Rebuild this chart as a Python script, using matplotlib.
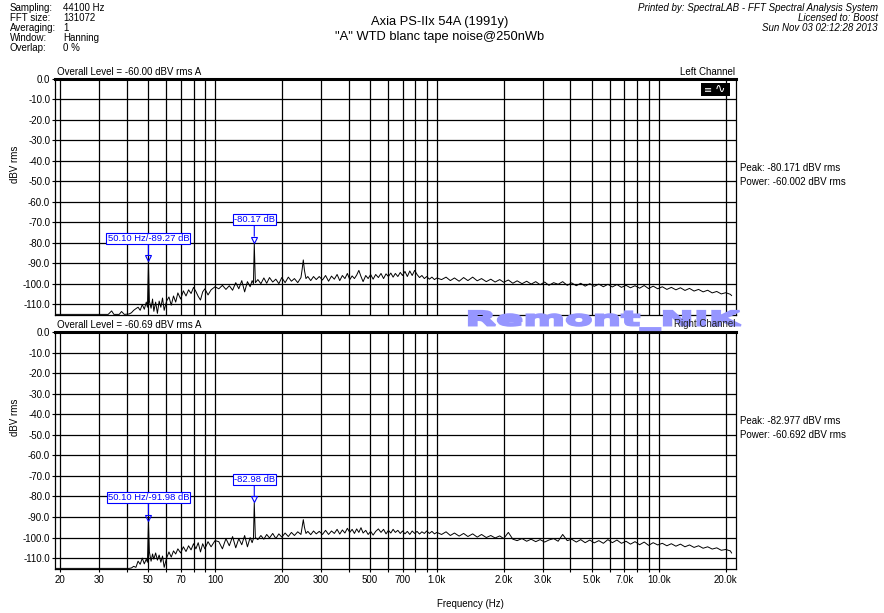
import numpy as np
import matplotlib
matplotlib.use("Agg")
import matplotlib.pyplot as plt
from matplotlib.patches import Rectangle, PathPatch
from matplotlib.textpath import TextPath
from matplotlib.font_manager import FontProperties
from matplotlib.transforms import Affine2D, IdentityTransform, offset_copy
from matplotlib.ticker import NullFormatter

plt.rcParams['font.family'] = ['Liberation Sans', 'DejaVu Sans']

W, H = 884, 613

# spectrum (Hz / dBV rms)
freqs = [19, 30, 33, 34.2, 35, 37, 37.9, 39, 41, 42,
         43, 44, 45, 46, 47, 48, 49, 49.6, 50.1, 50.6,
         51.5, 52.3, 53, 54, 55, 56, 57, 58, 59, 60.5,
         62, 63.5, 65, 66.5, 68, 70, 72, 74, 76, 78,
         80, 82, 84, 86, 88, 90, 93, 96, 100,
         104, 108, 112, 116, 120, 124, 128, 132, 136, 140,
         144, 147, 149, 150.3, 152, 156, 161, 166, 171, 176,
         182, 188, 194, 200, 207, 214, 221, 228, 236, 244,
         247, 250, 253, 257, 262, 270, 278, 286, 295, 305,
         315, 325, 335, 345, 355, 365, 375, 385, 395, 405,
         415, 425, 435, 445, 455, 465, 478, 490, 503, 516,
         530, 545, 560, 575, 590, 605, 620, 635, 650, 667,
         684, 700, 718, 736, 755, 774, 794, 814, 835, 856,
         878, 900, 925, 950, 975, 1000,
         1050, 1100, 1150, 1200, 1260, 1320, 1380, 1450, 1520, 1590,
         1670, 1750, 1830, 1920, 2000, 2100, 2200, 2300, 2420, 2540,
         2660, 2790, 2920, 3060, 3200, 3360, 3520, 3690, 3870, 4050,
         4250, 4450, 4660, 4890, 5120, 5370, 5630, 5900, 6180, 6480,
         6790, 7120, 7460, 7820, 8200, 8600, 9000, 9440, 9900, 10380,
         10880, 11400, 11950, 12530, 13130, 13760, 14430, 15120, 15850, 16620,
         17420, 18260, 19140, 20060, 21030, 21300]

left_db = [-115.0, -115.0, -115.0, -113.3, -115.0, -115.0, -113.6, -115.0, -114.8, -114.2,
           -113.0, -112.2, -111.5, -113.0, -110.2, -112.5, -109.0, -111.5, -89.27, -108.5,
           -112.0, -107.5, -113.5, -109.0, -114.5, -108.5, -111.5, -107.0, -113.0, -108.5,
           -106.5, -110.5, -106.0, -109.0, -104.5, -107.5, -103.5, -106.0, -103.0, -104.8,
           -101.8, -103.8, -106.2, -108.0, -104.0, -102.5, -105.5, -103.0, -101.5,
           -102.5, -100.8, -102.8, -101.0, -103.2, -99.5, -102.5, -98.5, -104.0, -99.0,
           -101.5, -98.5, -100.0, -80.17, -99.5, -98.0, -100.0, -97.2, -99.8, -97.0,
           -99.2, -97.8, -100.0, -97.0, -99.5, -96.8, -98.8, -97.5, -99.5, -97.0,
           -93.0, -88.4, -93.5, -97.5, -96.5, -98.5, -96.5, -98.0, -96.5, -98.2,
           -96.0, -98.8, -96.3, -97.8, -95.5, -98.5, -96.0, -97.5, -95.0, -98.0,
           -96.2, -97.5, -95.8, -93.5, -96.5, -99.0, -96.0, -97.5, -95.5, -97.8,
           -95.5, -97.0, -95.0, -97.5, -95.2, -96.5, -94.8, -96.8, -95.0, -96.5,
           -94.5, -96.0, -94.0, -96.5, -93.8, -96.0, -93.5, -95.5, -97.0, -96.0,
           -97.5, -96.5, -97.8, -96.8, -98.0, -97.2,
           -98.0, -96.8, -98.5, -97.2, -98.8, -97.0, -98.5, -96.8, -98.6, -97.5,
           -99.0, -97.8, -99.2, -98.0, -99.3, -98.2, -99.8, -98.6, -100.0, -98.8,
           -100.2, -99.0, -100.5, -99.2, -100.8, -99.5, -100.3, -99.0, -100.8, -99.6,
           -101.0, -99.8, -101.2, -100.0, -101.3, -100.2, -101.5, -100.3, -101.6, -100.4,
           -101.8, -100.8, -102.0, -101.0, -102.2, -100.9, -102.4, -101.2, -102.5, -101.5,
           -102.8, -101.8, -103.0, -102.0, -103.3, -102.3, -103.6, -102.8, -104.0, -103.2,
           -104.5, -103.8, -105.0, -104.4, -105.2, -105.8]

right_db = [-115.0, -115.0, -115.0, -115.0, -115.0, -115.0, -115.0, -115.0, -115.0, -114.8,
            -114.0, -114.5, -111.5, -113.0, -110.0, -112.8, -110.5, -112.0, -91.98, -107.0,
            -111.5, -108.0, -110.5, -107.5, -111.0, -108.5, -112.0, -109.0, -114.5, -110.0,
            -107.0, -109.5, -106.5, -108.0, -105.5, -107.5, -104.5, -106.8, -104.0, -106.0,
            -103.0, -105.5, -102.5, -107.0, -103.0, -105.5, -102.0, -104.5, -101.5,
            -102.0, -105.5, -100.5, -104.0, -99.5, -105.0, -100.5, -103.5, -99.0, -104.5,
            -100.0, -102.5, -100.5, -82.98, -100.0, -101.0, -99.0, -100.8, -98.5, -100.2,
            -98.0, -100.5, -98.2, -99.8, -97.8, -99.5, -97.5, -99.0, -97.2, -98.5,
            -95.0, -91.3, -95.0, -98.0, -97.0, -98.6, -96.8, -98.2, -97.0, -98.5,
            -96.5, -98.5, -96.8, -98.0, -96.0, -98.3, -96.3, -97.8, -95.5, -97.5,
            -96.0, -98.0, -95.8, -97.5, -95.2, -97.8, -96.5, -98.5, -97.0, -98.8,
            -97.0, -95.8, -97.5, -96.0, -98.2, -96.5, -97.8, -96.0, -97.5, -96.5,
            -98.0, -96.8, -98.2, -97.0, -98.5, -96.8, -98.0, -97.0, -98.3, -97.2,
            -98.0, -96.8, -98.0, -97.0, -98.2, -97.5,
            -98.5, -97.2, -99.0, -97.8, -99.3, -98.0, -99.5, -98.2, -99.8, -98.5,
            -100.0, -99.0, -100.2, -99.2, -100.5, -97.5, -100.8, -101.5, -100.5, -101.8,
            -100.8, -102.0, -101.0, -102.2, -101.2, -100.5, -101.8, -98.5, -101.5, -100.8,
            -102.2, -101.0, -102.5, -101.2, -102.6, -101.5, -102.8, -101.0, -102.5, -101.2,
            -102.8, -101.8, -103.2, -102.0, -103.5, -102.2, -103.8, -102.5, -103.6, -102.8,
            -104.0, -103.0, -104.2, -103.2, -104.5, -103.6, -104.8, -104.0, -105.2, -104.5,
            -105.6, -105.0, -106.2, -105.8, -106.5, -107.5]

left_mark_f = [50.10, 150.3]
left_mark_db = [-89.27, -80.17]
left_mark_txt = ["50.10 Hz/-89.27 dB", "-80.17 dB"]
right_mark_f = [50.10, 150.3]
right_mark_db = [-91.98, -82.98]
right_mark_txt = ["50.10 Hz/-91.98 dB", "-82.98 dB"]

info_keys = ["Sampling:", "FFT size:", "Averaging:", "Window:", "Overlap:"]
info_vals = ["44100 Hz", "131072", "1", "Hanning", "0 %"]
title_lines = ["Axia PS-IIx 54A (1991y)", '"A" WTD blanc tape noise@250nWb']
printed_lines = ["Printed by: SpectraLAB - FFT Spectral Analysis System",
                 "Licensed to: Boost", "Sun Nov 03 02:12:28 2013"]

xtick_major = [20, 30, 50, 70, 100, 200, 300, 500, 700, 1000, 2000, 3000, 5000, 7000, 10000, 20000]
xtick_labels = ["20", "30", "50", "70", "100", "200", "300", "500", "700", "1.0k",
                "2.0k", "3.0k", "5.0k", "7.0k", "10.0k", "20.0k"]
xtick_minor = [40, 60, 80, 90, 400, 600, 800, 900, 4000, 6000, 8000, 9000]
ytick_vals = [0, -10, -20, -30, -40, -50, -60, -70, -80, -90, -100, -110]

fig = plt.figure(figsize=(W / 100, H / 100), dpi=100)
fig.patch.set_facecolor('white')


def ftext(x, y, s, **kw):
    kw.setdefault('fontsize', 7)
    kw.setdefault('va', 'center')
    return fig.text(x / W, 1 - y / H, s, **kw)


for i, (k, v) in enumerate(zip(info_keys, info_vals)):
    ftext(10, 8 + 10 * i, k)
    ftext(63, 8 + 10 * i, v)

ftext(440, 22, title_lines[0], fontsize=9.3, ha='center')
ftext(440, 37, title_lines[1], fontsize=9.3, ha='center')
for i, s in enumerate(printed_lines):
    ftext(878, 8 + 10 * i, s, ha='right', style='italic')

panels = [
    (79, 315, left_db, "Left Channel", "-60.00", "-80.171", "-60.002",
     left_mark_f, left_mark_db, left_mark_txt),
    (332, 569, right_db, "Right Channel", "-60.69", "-82.977", "-60.692",
     right_mark_f, right_mark_db, right_mark_txt),
]

for i, (y0, y1, db, name, level, peak, power, mf, mdb, mtxt) in enumerate(panels):
    ax = fig.add_axes([55 / W, 1 - y1 / H, (736 - 55) / W, (y1 - y0) / H])
    ax.set_xscale('log')
    ax.set_xlim(19, 22300)
    ax.set_ylim(-115.3, 0)
    ax.plot(freqs, db, color='black', lw=0.7)

    ax.set_yticks(ytick_vals)
    ax.set_yticklabels([f"{v:.1f}" for v in ytick_vals])
    ax.set_xticks(xtick_major)
    ax.set_xticks(xtick_minor, minor=True)
    ax.xaxis.set_minor_formatter(NullFormatter())
    ax.grid(True, which='both', color='black', lw=0.9)
    for sp in ax.spines.values():
        sp.set_linewidth(0.9)
    ax.spines['top'].set_linewidth(2.2)
    ax.tick_params(axis='y', direction='out', length=2.5, width=0.8, labelsize=7, pad=1)
    if i == 0:
        ax.tick_params(axis='x', which='both', length=0, labelbottom=False)
    else:
        ax.set_xticklabels(xtick_labels)
        ax.tick_params(axis='x', which='both', direction='out', length=2.5,
                       width=0.8, labelsize=7, pad=2)

    tri = offset_copy(ax.transData, fig=fig, x=0, y=3.5, units='dots')
    ax.plot(mf, mdb, ls='none', marker='v', ms=5, mfc='none', mec='blue',
            mew=0.8, transform=tri, clip_on=False)
    for f, d, t in zip(mf, mdb, mtxt):
        ax.annotate(t, xy=(f, d), xytext=(0, 13.5), textcoords='offset points',
                    ha='center', va='bottom', fontsize=6.8, color='blue',
                    bbox=dict(boxstyle='square,pad=0.12', fc='white', ec='blue', lw=0.8),
                    arrowprops=dict(arrowstyle='-', color='blue', lw=0.8,
                                    shrinkA=0, shrinkB=5))

    ftext(57, y0 - 7, f"Overall Level = {level} dBV rms A")
    ftext(15, y0 + 85, "dBV rms", rotation=90, ha='center')
    ftext(740, y0 + 89, f"Peak: {peak} dBV rms")
    ftext(740, y0 + 103, f"Power: {power} dBV rms")
    if i == 0:
        ftext(735, y0 - 7, name, ha='right')

# watermark between the panels
tp = TextPath((0, 0), "Remont_NIK", size=1,
              prop=FontProperties(family='DejaVu Sans', weight='bold'))
bb = tp.get_extents()
tf = (Affine2D().translate(-bb.x0, -bb.y0)
      .scale(272 / bb.width, 19 / bb.height).translate(469, H - 330))
wm = PathPatch(tf.transform_path(tp), fc='#9696ff', ec='#9696ff', lw=1.6,
               joinstyle='miter', transform=IdentityTransform(), zorder=10)
fig.add_artist(wm)
ftext(735, 324, "Right Channel", ha='right', zorder=11, color='#222222')

# small icon top-right
fig.add_artist(Rectangle((701, H - 96), 29, 13, fc='black', ec='none',
                         transform=IdentityTransform(), zorder=10))
ftext(708, 89.5, "\u2261", color='white', fontsize=7, ha='center', zorder=11,
      family=['DejaVu Sans'])
ftext(720, 89.5, "\u223f", color='white', fontsize=9, ha='center', zorder=11,
      family=['DejaVu Sans'])

ftext(437, 604, "Frequency (Hz)")

fig.savefig("out.png", dpi=100)
